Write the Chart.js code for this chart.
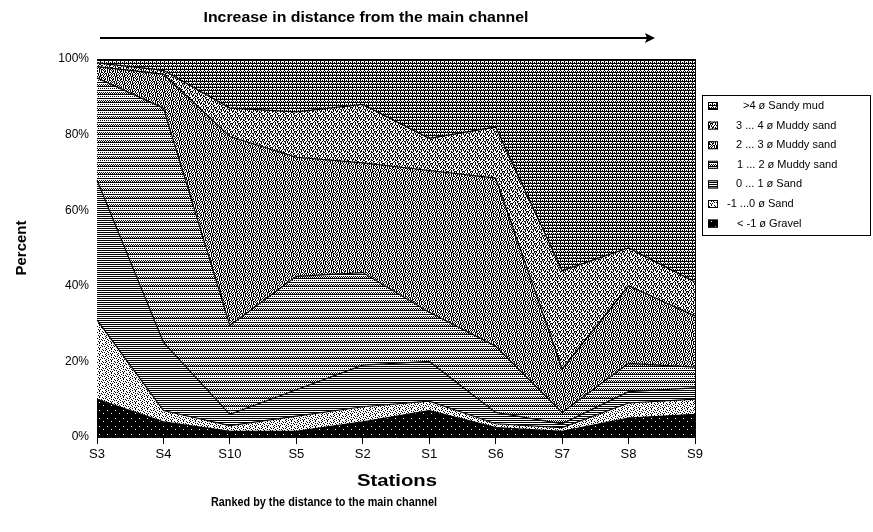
<!DOCTYPE html>
<html><head><meta charset="utf-8">
<script src="https://cdn.jsdelivr.net/npm/chart.js@4"></script>
<style>html,body{margin:0;padding:0;background:#fff}</style>
</head><body>
<canvas id="c" width="873" height="532"></canvas>
<script>
// ---- data (percent per grain-size class) ----
const stations = ['S3','S4','S10','S5','S2','S1','S6','S7','S8','S9'];
const yTickValues = [0,20,40,60,80,100];
const gravel    = [10, 4, 1.5, 1.5, 4, 7, 2.5, 1.5, 5, 6];
const sandNeg1  = [21, 3, 1.5, 4, 4, 2.5, 1, 1, 4, 4];
const sand01    = [37, 18, 3, 7, 11, 10.5, 3, 1, 3, 3];
const muddy12   = [27, 62, 23.5, 30, 24.5, 13, 17.5, 3, 7.5, 5.5];
const muddy23   = [3, 9, 50, 31.5, 29, 37.5, 44.5, 11.5, 20.5, 13.5];
const muddy34   = [1, 1, 7.5, 12, 15.5, 8.5, 13.5, 26, 10, 9];
const sandyMud  = [1, 3, 13, 14, 12, 21, 18, 56, 50, 59];
const classLabels = ['< -1 ø Gravel','-1 ...0 ø Sand','0 ... 1 ø Sand','1 ... 2 ø Muddy sand','2 ... 3 ø Muddy sand','3 ... 4 ø Muddy sand','>4 ø Sandy mud'];
const seriesValues = [gravel, sandNeg1, sand01, muddy12, muddy23, muddy34, sandyMud];
const titleText = 'Increase in distance from the main channel';
const xTitle = 'Stations';
const xSubtitle = 'Ranked by the distance to the main channel';
const yTitle = 'Percent';

// ---- fill patterns (styling) ----
const patternMaps = [
 ["########","########","###.####","########","########","#######.","########","########"],
 ["#..#.....#..","...#..#...#.",".#.....#.#..","...#.#.....#","#.....#.#...","..#.#.....#."],
 ["######","......","######","......","######","......"],
 ["#.#.#.#.","........","########","........",".#.#.#.#","#.#.#.#.","########","........"],
 ["#..#.##.",".##.#..#","#.#.#.#.","..#.##.#",".#.##..#","#..#.##.",".#.#.#.#","##.#.#.."],
 ["#..##...","..#..##.",".#.#.#..","#..#..##","#..#..#.","..#.##.#",".#...#.#","##.#.#.."],
 ["########","#...#...","#.#.#.#.","########","#...#...",".#.#.#.#"]
];
function makePattern(map){
  const h=map.length,w=map[0].length;
  const cv=document.createElement('canvas');cv.width=w;cv.height=h;
  const cx=cv.getContext('2d');cx.fillStyle='#fff';cx.fillRect(0,0,w,h);cx.fillStyle='#000';
  for(let y=0;y<h;y++)for(let x=0;x<w;x++)if(map[y][x]==='#')cx.fillRect(x,y,1,1);
  return cv;
}
const ctx0=document.getElementById('c').getContext('2d');
const patterns=patternMaps.map(m=>ctx0.createPattern(makePattern(m),'repeat'));

const datasets=seriesValues.map((vals,i)=>({
  label:classLabels[i], data:vals, fill:i===0?'origin':'-1',
  backgroundColor:patterns[i], borderColor:'#000', borderWidth:1.2,
  pointRadius:0, tension:0
}));

const FONT="'Liberation Sans', Arial, sans-serif";
function fitText(c,txt,cx,cy,w){
  const m=c.measureText(txt).width;
  c.save();c.translate(cx,cy);c.scale(w/m,1);c.fillText(txt,0,0);c.restore();
}
const extras={
  id:'extras',
  afterDraw(chart){
    const c=chart.ctx, a=chart.chartArea;
    c.save();
    c.strokeStyle='#000';c.lineWidth=1;
    c.beginPath();c.moveTo(a.right+0.5,a.top);c.lineTo(a.right+0.5,a.bottom);c.stroke();
    c.beginPath();c.moveTo(a.left,a.top+0.5);c.lineTo(a.right,a.top+0.5);c.stroke();
    // title + arrow
    c.fillStyle='#000';c.textAlign='center';c.textBaseline='middle';
    c.font="bold 14px "+FONT;
    fitText(c,titleText,366,18,325);
    c.lineWidth=2;c.beginPath();c.moveTo(100,38);c.lineTo(648,38);c.stroke();
    c.beginPath();c.moveTo(655,38);c.lineTo(645,33);c.lineTo(647,38);c.lineTo(645,43);c.closePath();c.fill();
    // axis titles
    c.font="bold 16px "+FONT;
    fitText(c,xTitle,397,482,80);
    c.font="bold 12px "+FONT;
    fitText(c,xSubtitle,324,503,226);
    c.save();c.translate(22,(a.top+a.bottom)/2);c.rotate(-Math.PI/2);
    c.font="bold 15px "+FONT;c.fillText(yTitle,0,0);c.restore();
    // legend
    const lx=702,ly=95,lw=168,lh=140;
    c.lineWidth=1;c.strokeRect(lx+0.5,ly+0.5,lw,lh);
    c.font="11px "+FONT;c.textAlign='left';
    const offs=[16,9,9,10,9,0,10];
    for(let k=0;k<7;k++){
      const i=6-k; const y=ly+11+k*19.6;
      c.fillStyle=patterns[i];c.fillRect(lx+6,y-4,10,8);
      c.strokeRect(lx+6.5,y-3.5,9,7);
      c.fillStyle='#000';
      c.fillText(classLabels[i],lx+25+offs[k],y);
    }
    c.restore();
  }
};

new Chart(document.getElementById('c'),{
  type:'line',
  data:{labels:stations,datasets},
  options:{
    responsive:false,animation:false,devicePixelRatio:1,
    layout:{padding:{left:0,right:178,top:59,bottom:0}},
    plugins:{legend:{display:false},tooltip:{enabled:false}},
    scales:{
      x:{
        afterFit:s=>{s.height=95;},
        grid:{display:true,drawOnChartArea:false,drawTicks:true,tickLength:7,color:'#000'},
        border:{display:true,color:'#000'},
        ticks:{color:'#000',font:{family:FONT,size:13},padding:3,autoSkip:false,maxRotation:0}
      },
      y:{
        stacked:true,min:0,max:100,
        afterFit:s=>{s.width=97;},
        afterBuildTicks:s=>{s.ticks=yTickValues.map(v=>({value:v}));},
        grid:{display:true,drawOnChartArea:false,drawTicks:false,color:'#000'},
        border:{display:true,color:'#000'},
        ticks:{color:'#000',font:{family:FONT,size:12},padding:8,callback:v=>v+'%'}
      }
    }
  },
  plugins:[extras]
});
</script>
</body></html>
